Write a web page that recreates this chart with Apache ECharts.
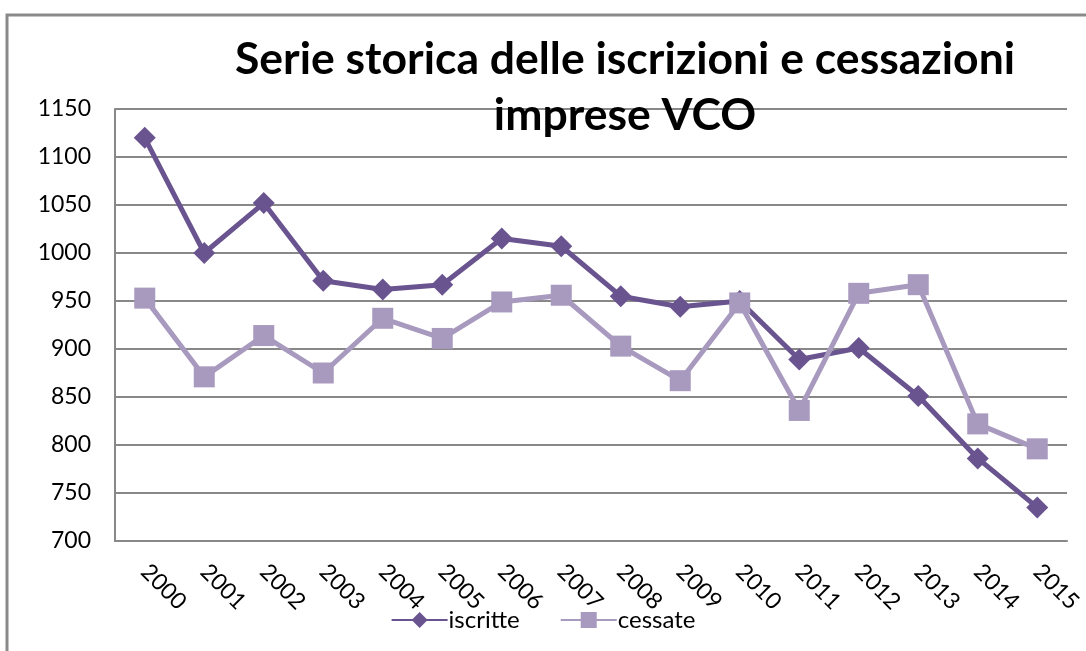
<!DOCTYPE html>
<html>
<head>
<meta charset="utf-8">
<script src="https://cdn.jsdelivr.net/npm/echarts@6/dist/echarts.min.js"></script>
<style>
  html, body { margin: 0; padding: 0; background: #fff; }
  #chart { width: 1086px; height: 651px; }
</style>
</head>
<body>
<div id="chart"></div>
<script>
const years = ['2000', '2001', '2002', '2003', '2004', '2005', '2006', '2007',
  '2008', '2009', '2010', '2011', '2012', '2013', '2014', '2015']
const iscritte = [1120, 1000, 1052, 971, 962, 967, 1015, 1007, 955, 944, 950, 889, 901, 851, 786, 735]
const cessate = [953, 871, 914, 875, 932, 911, 949, 956, 903, 867, 948, 836, 958, 967, 822, 796]
const yTicks = [700, 750, 800, 850, 900, 950, 1000, 1050, 1100, 1150]

const font = 'Lato, "Liberation Sans", sans-serif'
const myChart = echarts.init(document.getElementById('chart'))

myChart.setOption({
  backgroundColor: '#fff',
  animation: false,
  graphic: [
    {
      type: 'rect',
      shape: { x: 7, y: 15, width: 1200, height: 800 },
      style: { fill: 'none', stroke: '#8a8a8a', lineWidth: 3 },
      z: -1
    }
  ],
  title: {
    text: 'Serie storica delle iscrizioni e cessazioni\nimprese VCO',
    left: 620,
    top: 27,
    textAlign: 'center',
    textStyle: {
      fontFamily: font,
      fontWeight: 'bold',
      fontSize: 44.5,
      lineHeight: 56,
      color: '#000'
    },
    z: 10
  },
  legend: {
    bottom: 14,
    left: 'center',
    itemWidth: 56,
    itemHeight: 20,
    itemGap: 40,
    textStyle: { fontFamily: font, fontSize: 24, color: '#000', padding: [0, 0, 0, -4] },
    data: ['iscritte', 'cessate']
  },
  grid: { left: 115, right: 19, top: 109, bottom: 110, containLabel: false },
  xAxis: {
    type: 'category',
    data: years,
    boundaryGap: true,
    axisLine: { show: true, lineStyle: { color: '#888', width: 2 } },
    axisTick: { show: false },
    axisLabel: {
      rotate: -45,
      margin: 27,
      fontFamily: font,
      fontSize: 23,
      color: '#000',
      interval: 0
    }
  },
  yAxis: {
    type: 'value',
    min: yTicks[0],
    max: yTicks[yTicks.length - 1],
    interval: 50,
    axisLine: { show: true, lineStyle: { color: '#888', width: 2 } },
    axisTick: { show: false },
    axisLabel: {
      margin: 24,
      fontFamily: font,
      fontSize: 23,
      color: '#000',
      formatter: v => String(v)
    },
    splitLine: { lineStyle: { color: '#888', width: 2 } }
  },
  series: [
    {
      name: 'iscritte',
      type: 'line',
      data: iscritte,
      symbol: 'diamond',
      symbolSize: 22,
      color: '#6a5490',
      lineStyle: { width: 5, color: '#6a5490' },
      itemStyle: { color: '#6a5490' },
      z: 3
    },
    {
      name: 'cessate',
      type: 'line',
      data: cessate,
      symbol: 'rect',
      symbolSize: 21,
      color: '#a899be',
      lineStyle: { width: 5, color: '#a899be' },
      itemStyle: { color: '#a899be' },
      z: 4
    }
  ]
})
</script>
</body>
</html>
